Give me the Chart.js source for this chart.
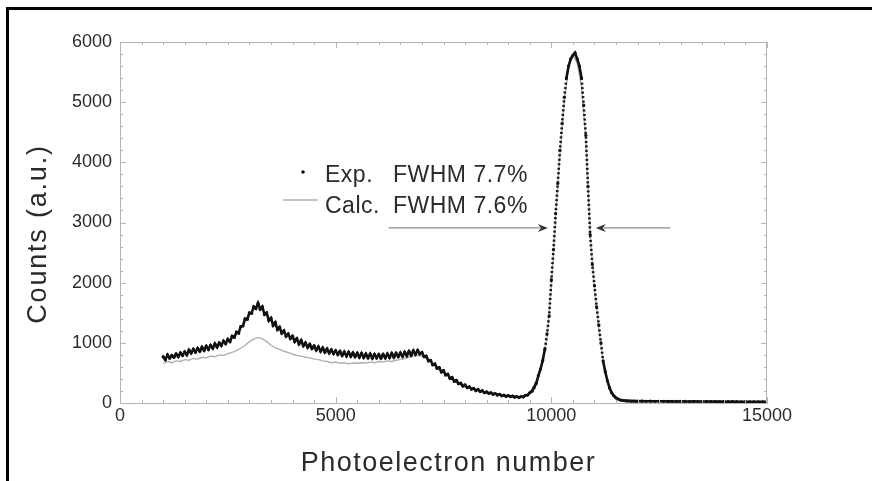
<!DOCTYPE html>
<html>
<head>
<meta charset="utf-8">
<script src="https://cdn.jsdelivr.net/npm/chart.js@4.4.1/dist/chart.umd.min.js"></script>
<style>
  html, body { margin: 0; background: #fff; }
  canvas { display: block; }
</style>
</head>
<body>
<canvas id="spektrum" width="872" height="481"></canvas>
<script>
// Exp. spectrum: photoelectron number (channel) vs counts
const expX = [
  1000, 1050, 1100, 1150, 1200, 1250, 1300, 1350, 1400, 1450,
  1500, 1550, 1600, 1650, 1700, 1750, 1800, 1850, 1900, 1950,
  2000, 2050, 2100, 2150, 2200, 2250, 2300, 2350, 2400, 2450,
  2500, 2550, 2600, 2650, 2700, 2750, 2800, 2850, 2900, 2950,
  3000, 3050, 3100, 3150, 3200, 3250, 3300, 3350, 3400, 3450,
  3500, 3550, 3600, 3650, 3700, 3750, 3800, 3850, 3900, 3950,
  4000, 4050, 4100, 4150, 4200, 4250, 4300, 4350, 4400, 4450,
  4500, 4550, 4600, 4650, 4700, 4750, 4800, 4850, 4900, 4950,
  5000, 5050, 5100, 5150, 5200, 5250, 5300, 5350, 5400, 5450,
  5500, 5550, 5600, 5650, 5700, 5750, 5800, 5850, 5900, 5950,
  6000, 6050, 6100, 6150, 6200, 6250, 6300, 6350, 6400, 6450,
  6500, 6550, 6600, 6650, 6700, 6750, 6800, 6850, 6900, 6950,
  7000, 7050, 7100, 7150, 7200, 7250, 7300, 7350, 7400, 7450,
  7500, 7550, 7600, 7650, 7700, 7750, 7800, 7850, 7900, 7950,
  8000, 8050, 8100, 8150, 8200, 8250, 8300, 8350, 8400, 8450,
  8500, 8550, 8600, 8650, 8700, 8750, 8800, 8850, 8900, 8950,
  9000, 9050, 9100, 9150, 9200, 9250, 9300, 9350, 9400, 9450,
  9500, 9550, 9600, 9650, 9700, 9750, 9800, 9850, 9900, 9950,
  10000, 10050, 10100, 10150, 10200, 10250, 10300, 10350, 10400, 10450,
  10500, 10550, 10600, 10650, 10700, 10750, 10800, 10850, 10900, 10950,
  11000, 11050, 11100, 11150, 11200, 11250, 11300, 11350, 11400, 11450,
  11500, 11550, 11600, 11650, 11700, 11750, 11800, 11850, 11900, 11950,
  12000, 12100, 12200, 12300, 12400, 12500, 12600, 12700, 12800, 12900,
  13000, 13100, 13200, 13300, 13400, 13500, 13600, 13700, 13800, 13900,
  14000, 14100, 14200, 14300, 14400, 14500, 14600, 14700, 14800, 14900,
  15000
];
const expY = [
  770, 720, 800, 745, 790, 760, 815, 770, 835, 790,
  850, 800, 880, 830, 895, 845, 910, 860, 930, 875,
  945, 890, 960, 910, 985, 930, 1000, 955, 1030, 985,
  1060, 1020, 1110, 1090, 1180, 1160, 1270, 1280, 1400, 1390,
  1500, 1490, 1600, 1570, 1660, 1560, 1600, 1470, 1500, 1370,
  1410, 1290, 1340, 1220, 1260, 1160, 1200, 1110, 1150, 1070,
  1110, 1020, 1070, 980, 1040, 950, 1000, 925, 975, 905,
  950, 880, 935, 860, 915, 845, 900, 830, 885, 820,
  870, 805, 860, 790, 850, 780, 845, 775, 835, 770,
  830, 760, 825, 755, 815, 750, 815, 745, 810, 750,
  805, 745, 810, 750, 815, 755, 825, 760, 830, 770,
  835, 775, 845, 785, 860, 795, 870, 810, 875, 815,
  840, 770, 780, 700, 710, 635, 650, 575, 590, 515,
  540, 465, 480, 410, 425, 360, 375, 320, 330, 280,
  300, 255, 270, 230, 245, 205, 225, 190, 205, 170,
  185, 160, 170, 145, 158, 132, 145, 120, 132, 110,
  125, 104, 116, 96, 108, 90, 108, 100, 128, 132,
  170, 195, 255, 325, 455, 565, 705, 895, 1150, 1450,
  2050, 2550, 3150, 3650, 4200, 4650, 5080, 5400, 5600, 5720,
  5780, 5820, 5720, 5600, 5400, 4950, 4450, 3600, 2800, 2300,
  1950, 1600, 1300, 1000, 700, 520, 370, 250, 170, 120,
  85, 65, 50, 42, 38, 35, 34, 32, 33, 31,
  30, 31, 29, 30, 28, 29, 28, 27, 28, 26,
  27, 26, 25, 27, 25, 24, 26, 24, 23, 25,
  23, 22, 24, 22, 21, 22, 20, 21, 20, 19,
  20
];

// Calc. spectrum
const calcX = [
  1000, 1100, 1200, 1300, 1400, 1500, 1600, 1700, 1800, 1900,
  2000, 2100, 2200, 2300, 2400, 2500, 2600, 2700, 2800, 2900,
  3000, 3100, 3200, 3300, 3400, 3500, 3600, 3700, 3800, 3900,
  4000, 4100, 4200, 4300, 4400, 4500, 4600, 4700, 4800, 4900,
  5000, 5100, 5200, 5300, 5400, 5500, 5600, 5700, 5800, 5900,
  6000, 6100, 6200, 6300, 6400, 6500, 6600, 6700, 6800, 6900,
  7000, 7200, 7400, 7600, 7800, 8000, 8500, 9000, 9300, 9500,
  9700, 9800, 9900, 10000, 10100, 10200, 10300, 10400, 10500, 10600,
  10700, 10800, 10900, 11000, 11100, 11200, 11300, 11400, 11500, 11600,
  11800, 12000, 13000, 14000, 15000
];
const calcY = [
  660, 690, 670, 700, 690, 720, 710, 740, 730, 760,
  750, 780, 770, 800, 790, 820, 840, 870, 910, 960,
  1020, 1060, 1090, 1070, 1020, 960, 920, 890, 860, 840,
  810, 790, 780, 760, 750, 730, 720, 700, 690, 670,
  680, 660, 670, 650, 665, 660, 670, 665, 680, 670,
  690, 680, 700, 690, 710, 720, 740, 760, 780, 790,
  780, 690, 560, 450, 340, 270, 170, 110, 110, 160,
  440, 680, 1100, 1950, 3100, 4150, 5000, 5600, 5780, 5650,
  5250, 4400, 2800, 1900, 1250, 700, 360, 170, 85, 50,
  35, 30, 27, 23, 20
];

// FWHM markers: arrows at half maximum, from tail to tip (channel)
const halfMax = 2910;
const panahKiri = [6230, 9920];
const panahKanan = [12760, 11030];

const legendRows = [
  { nama: 'Exp.', fwhm: 'FWHM 7.7%' },
  { nama: 'Calc.', fwhm: 'FWHM 7.6%' }
];

const FONT = "'Liberation Sans', Arial, Helvetica, sans-serif";
const AXIS_GRAY = '#b4b4b4';
const TEXT = '#2b2b2b';

function toPoints(xs, ys) {
  return xs.map((x, i) => ({ x: x, y: ys[i] }));
}

function panah(ctx, x0, x1, y) {
  const dir = Math.sign(x1 - x0);
  ctx.strokeStyle = '#8a8a8a';
  ctx.lineWidth = 1.2;
  ctx.beginPath();
  ctx.moveTo(x0, y);
  ctx.lineTo(x1 - dir * 8, y);
  ctx.stroke();
  ctx.fillStyle = '#333';
  ctx.beginPath();
  ctx.moveTo(x1, y);
  ctx.lineTo(x1 - dir * 10, y - 4);
  ctx.lineTo(x1 - dir * 7, y);
  ctx.lineTo(x1 - dir * 10, y + 4);
  ctx.closePath();
  ctx.fill();
}

const hiasan = {
  id: 'hiasan',
  afterDraw(chart) {
    const { ctx, chartArea: a, scales: { x, y } } = chart;
    ctx.save();

    // black frame, top and left only
    ctx.fillStyle = '#000';
    ctx.fillRect(6, 7, 866, 3);
    ctx.fillRect(6, 7, 3, 474);

    // top and right sides of the box
    ctx.strokeStyle = AXIS_GRAY;
    ctx.lineWidth = 1;
    ctx.beginPath();
    ctx.moveTo(a.left, a.top + 0.5);
    ctx.lineTo(a.right, a.top + 0.5);
    ctx.moveTo(a.right - 0.5, a.top);
    ctx.lineTo(a.right - 0.5, a.bottom);
    ctx.stroke();

    // inward tick marks on all four sides
    ctx.beginPath();
    for (let v = 0; v <= x.max; v += 500) {
      const px = Math.round(x.getPixelForValue(v)) + 0.5;
      const len = v % 5000 === 0 ? 6 : 3;
      ctx.moveTo(px, a.bottom);
      ctx.lineTo(px, a.bottom - len);
      ctx.moveTo(px, a.top);
      ctx.lineTo(px, a.top + len);
    }
    for (let v = 0; v <= y.max; v += 200) {
      const py = Math.round(y.getPixelForValue(v)) + 0.5;
      const len = v % 1000 === 0 ? 6 : 3;
      ctx.moveTo(a.left, py);
      ctx.lineTo(a.left + len, py);
      ctx.moveTo(a.right, py);
      ctx.lineTo(a.right - len, py);
    }
    ctx.stroke();

    // FWHM arrows
    const yh = y.getPixelForValue(halfMax);
    panah(ctx, x.getPixelForValue(panahKiri[0]), x.getPixelForValue(panahKiri[1]), yh);
    panah(ctx, x.getPixelForValue(panahKanan[0]), x.getPixelForValue(panahKanan[1]), yh);

    // legend
    ctx.fillStyle = '#111';
    ctx.beginPath();
    ctx.arc(303, 172, 1.8, 0, Math.PI * 2);
    ctx.fill();
    ctx.strokeStyle = '#b0b0b0';
    ctx.lineWidth = 1.5;
    ctx.beginPath();
    ctx.moveTo(283, 200);
    ctx.lineTo(318, 200);
    ctx.stroke();

    ctx.fillStyle = TEXT;
    ctx.font = '23px ' + FONT;
    ctx.letterSpacing = '0.5px';
    ctx.textAlign = 'left';
    ctx.textBaseline = 'alphabetic';
    legendRows.forEach((r, i) => {
      const by = 182 + i * 31;
      ctx.fillText(r.nama, 325, by);
      ctx.fillText(r.fwhm, 393, by);
    });

    // axis titles
    ctx.font = '27px ' + FONT;
    ctx.letterSpacing = '1.5px';
    ctx.textAlign = 'center';
    ctx.fillText('Photoelectron number', (a.left + a.right) / 2 + 5, 471);

    ctx.letterSpacing = '1.8px';
    ctx.translate(46, 234);
    ctx.rotate(-Math.PI / 2);
    ctx.fillText('Counts (a.u.)', 0, 0);

    ctx.restore();
  }
};

const plainNumber = v => String(v);

new Chart(document.getElementById('spektrum'), {
  type: 'scatter',
  data: {
    datasets: [
      {
        label: 'Exp.',
        data: toPoints(expX, expY),
        order: 0,
        showLine: true,
        borderColor: '#111',
        borderWidth: 2.6,
        // steep flanks of the peak come out dotted
        segment: {
          borderDash: c => Math.abs(c.p1.parsed.y - c.p0.parsed.y) > 200 ? [2, 2.5] : undefined
        },
        pointRadius: 1.6,
        pointBorderWidth: 0,
        pointBackgroundColor: '#111'
      },
      {
        label: 'Calc.',
        data: toPoints(calcX, calcY),
        order: 1,
        showLine: true,
        borderColor: '#b0b0b0',
        borderWidth: 1.4,
        pointRadius: 0
      }
    ]
  },
  options: {
    responsive: false,
    animation: false,
    layout: { padding: { left: 10, top: 42, right: 105, bottom: 0 } },
    plugins: {
      legend: { display: false },
      tooltip: { enabled: false }
    },
    scales: {
      x: {
        type: 'linear',
        min: 0,
        max: 15000,
        afterFit: s => { s.height = 78; },
        grid: { display: false, drawTicks: false },
        border: { display: true, color: AXIS_GRAY, width: 1 },
        ticks: {
          stepSize: 5000,
          padding: 2,
          color: TEXT,
          font: { family: FONT, size: 18 },
          maxRotation: 0,
          callback: plainNumber
        }
      },
      y: {
        min: 0,
        max: 6000,
        afterFit: s => { s.width = 110; },
        grid: { display: false, drawTicks: false },
        border: { display: true, color: AXIS_GRAY, width: 1 },
        ticks: {
          stepSize: 1000,
          padding: 8,
          color: TEXT,
          font: { family: FONT, size: 18 },
          callback: plainNumber
        }
      }
    }
  },
  plugins: [hiasan]
});
</script>
</body>
</html>
